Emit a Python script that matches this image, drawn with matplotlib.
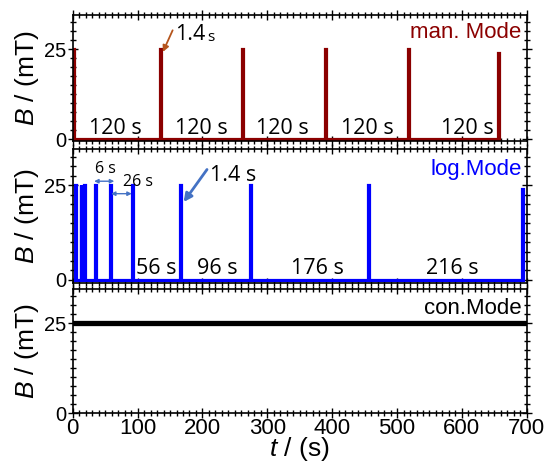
import numpy as np
import matplotlib
matplotlib.use('Agg')
import matplotlib.pyplot as plt
from matplotlib.ticker import MultipleLocator

plt.rcParams['font.family'] = ['Liberation Sans', 'DejaVu Sans']
plt.rcParams['mathtext.fontset'] = 'custom'
plt.rcParams['mathtext.rm'] = 'Liberation Sans'
plt.rcParams['mathtext.it'] = 'Liberation Sans:italic'

# pulse data (s, mT)
pulse_width = 1.4
man_times = [0, 134, 261, 389, 517, 656]
man_peaks = [25, 25, 25, 25, 25, 24]
log_times = [4, 12, 18, 35, 57, 92, 165, 274, 455, 693]
log_peaks = [25, 25, 25, 25, 25, 25, 25, 25, 25, 24]
con_level = 25

man_labels = ['120 s'] * 5
man_label_x = [66, 199, 323, 455, 609]
log_labels = ['56 s', '96 s', '176 s', '216 s']
log_label_x = [128, 223, 377, 585]

RED = '#8b0000'
BLUE = '#0000ff'
ARROW_BLUE = '#4472c4'
NOTE_FONT = ['Open Sans', 'DejaVu Sans']


def pulse_train(times, peaks, width):
    t, b = [], []
    for ti, pk in zip(times, peaks):
        t += [ti, ti, ti + width, ti + width]
        b += [0, pk, pk, 0]
    return np.array(t), np.array(b)


def style_axis(ax, ymin, show_x):
    ax.set_xlim(0, 700)
    ax.set_ylim(ymin, 34.6)
    ax.xaxis.set_major_locator(MultipleLocator(100))
    ax.xaxis.set_minor_locator(MultipleLocator(10))
    ax.yaxis.set_major_locator(MultipleLocator(25))
    ax.yaxis.set_minor_locator(MultipleLocator(2.5))
    ax.tick_params(which='both', direction='inout', top=True, right=True, width=1)
    ax.tick_params(which='major', length=7)
    ax.tick_params(which='minor', length=4)
    ax.tick_params(axis='y', labelsize=14.5, pad=1)
    ax.tick_params(axis='x', labelsize=16, pad=0, labelbottom=show_x)
    ax.set_ylabel('$B$ / (mT)', fontsize=19, labelpad=2)
    for s in ax.spines.values():
        s.set_linewidth(1.2)


fig = plt.figure(figsize=(5.47, 4.63), dpi=100)
L, W = 0.133, 0.830
ax1 = fig.add_axes([L, 0.695, W, 0.273])
ax2 = fig.add_axes([L, 0.389, W, 0.289])
ax3 = fig.add_axes([L, 0.107, W, 0.269])

# manual mode
t, b = pulse_train(man_times, man_peaks, pulse_width)
ax1.plot(t, b, color=RED, lw=2.3, solid_joinstyle='miter')
style_axis(ax1, -0.5, False)
ax1.text(692, 29.6, 'man. Mode', color=RED, fontsize=16, ha='right', va='center')
for x, s in zip(man_label_x, man_labels):
    ax1.text(x, 0.2, s, fontsize=15.5, ha='center', va='bottom', family=NOTE_FONT)
ax1.text(157, 29.0, '1.4', fontsize=15.5, ha='left', va='center', family=NOTE_FONT)
ax1.text(208, 28.3, 's', fontsize=11, ha='left', va='center', family=NOTE_FONT)
ax1.annotate('', xy=(139, 24.3), xytext=(154, 30.3),
             arrowprops=dict(arrowstyle='-|>', color='#b5551d', lw=1.3,
                             mutation_scale=9, shrinkA=0, shrinkB=0))

# logarithmic mode
t, b = pulse_train(log_times, log_peaks, pulse_width)
ax2.plot(t, b, color=BLUE, lw=2.3, solid_joinstyle='miter')
style_axis(ax2, -0.8, False)
ax2.text(692, 29.1, 'log.Mode', color=BLUE, fontsize=16, ha='right', va='center')
for x, s in zip(log_label_x, log_labels):
    ax2.text(x, 0.3, s, fontsize=15.5, ha='center', va='bottom', family=NOTE_FONT)
ax2.text(50, 29.3, '6 s', fontsize=11.5, ha='center', va='center', family=NOTE_FONT)
ax2.text(100, 25.8, '26 s', fontsize=11.5, ha='center', va='center', family=NOTE_FONT)
ax2.annotate('', xy=(33, 26.1), xytext=(64, 26.1),
             arrowprops=dict(arrowstyle='<|-|>', color=ARROW_BLUE, lw=1,
                             mutation_scale=6, shrinkA=0, shrinkB=0))
ax2.annotate('', xy=(59, 22.8), xytext=(91, 22.8),
             arrowprops=dict(arrowstyle='<|-|>', color=ARROW_BLUE, lw=1,
                             mutation_scale=6, shrinkA=0, shrinkB=0))
ax2.text(211, 27.7, '1.4 s', fontsize=15.5, ha='left', va='center', family=NOTE_FONT)
ax2.annotate('', xy=(171, 20.6), xytext=(207, 29.2),
             arrowprops=dict(arrowstyle='-|>', color=ARROW_BLUE, lw=2,
                             mutation_scale=12, shrinkA=0, shrinkB=0))

# continuous mode
ax3.plot([0, 700], [con_level, con_level], color='black', lw=3.8)
style_axis(ax3, 0, True)
ax3.text(692, 29.2, 'con.Mode', color='black', fontsize=16, ha='right', va='center')
ax3.set_xlabel('$t$ / (s)', fontsize=19, labelpad=-3)

fig.savefig('out.png', dpi=100)
plt.close(fig)
